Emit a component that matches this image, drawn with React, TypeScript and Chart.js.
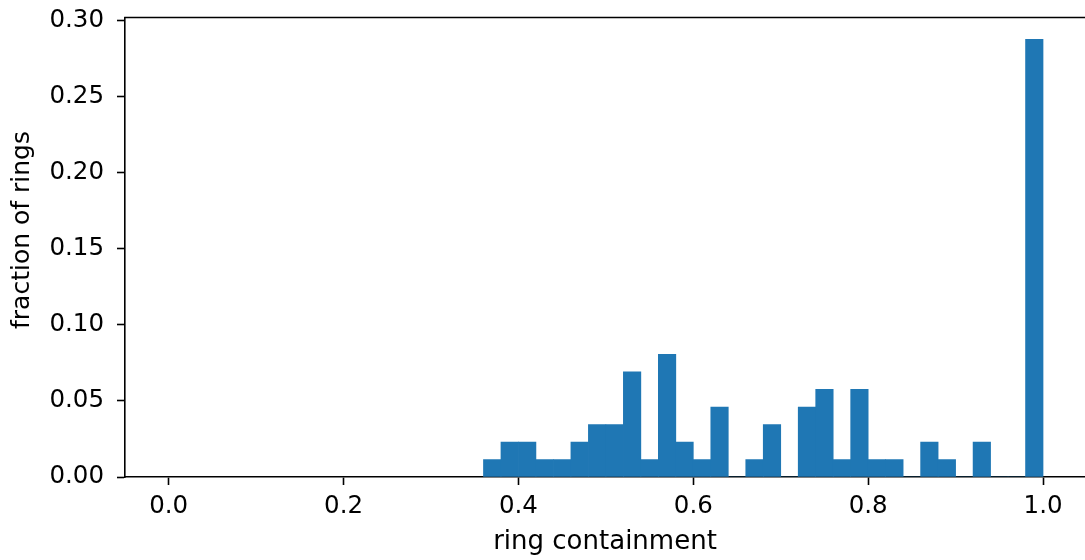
import React, { useEffect, useRef } from "react";
import { Chart, registerables } from "chart.js";

Chart.register(...registerables);

const binCenters = [
  0.37, 0.39, 0.41, 0.43, 0.45, 0.47, 0.49, 0.51, 0.53, 0.55, 0.57, 0.59, 0.61, 0.63, 0.65, 0.67,
  0.69, 0.71, 0.73, 0.75, 0.77, 0.79, 0.81, 0.83, 0.85, 0.87, 0.89, 0.91, 0.93, 0.95, 0.97, 0.99,
];
const fractions = [
  0.0115, 0.023, 0.023, 0.0115, 0.0115, 0.023, 0.0345, 0.0345, 0.069, 0.0115, 0.0805, 0.023, 0.0115, 0.046, 0, 0.0115,
  0.0345, 0, 0.046, 0.0575, 0.0115, 0.0575, 0.0115, 0.0115, 0, 0.023, 0.0115, 0, 0.023, 0, 0, 0.2874,
];
const xTicks = [0.0, 0.2, 0.4, 0.6, 0.8, 1.0];
const yTicks = [0.0, 0.05, 0.1, 0.15, 0.2, 0.25, 0.3];
const xLabel = "ring containment";
const yLabel = "fraction of rings";

const FONT = "'DejaVu Sans', sans-serif";

export default function App() {
  const ref = useRef<HTMLCanvasElement | null>(null);
  useEffect(() => {
    document.body.style.margin = "0";
    const canvas = ref.current;
    if (!canvas) return;
    const extras = {
      id: "extras",
      afterDraw(chart: any) {
        const { ctx, chartArea } = chart;
        ctx.save();
        ctx.strokeStyle = "#000";
        ctx.lineWidth = 1.6;
        ctx.beginPath();
        ctx.moveTo(chartArea.left - 0.8, chartArea.top);
        ctx.lineTo(chartArea.right, chartArea.top);
        ctx.stroke();
        ctx.translate(22.5, 230);
        ctx.rotate(-Math.PI / 2);
        ctx.fillStyle = "#000";
        ctx.font = `25px ${FONT}`;
        ctx.textAlign = "center";
        ctx.textBaseline = "middle";
        ctx.fillText(yLabel, 0, 0);
        ctx.restore();
      },
    };
    const chart = new Chart(canvas, {
      type: "bar",
      data: {
        datasets: [
          {
            data: binCenters.map((x, i) => ({ x, y: fractions[i] })),
            backgroundColor: "#1f77b4",
            borderWidth: 0,
            barPercentage: 1,
            categoryPercentage: 1,
          },
        ],
      },
      options: {
        animation: false,
        responsive: false,
        devicePixelRatio: 1,
        layout: { padding: { top: 17.5, right: 0, left: 0, bottom: 0 } },
        plugins: { legend: { display: false }, tooltip: { enabled: false } },
        scales: {
          x: {
            type: "linear",
            offset: false,
            min: -0.05,
            max: 1.048,
            bounds: "data",
            afterFit(scale: any) {
              scale.height = 83;
              scale.paddingLeft = 0;
              scale.paddingRight = 0;
            },
            afterBuildTicks(scale: any) {
              scale.ticks = xTicks.map((v) => ({ value: v }));
            },
            grid: {
              offset: false,
              drawOnChartArea: false,
              drawTicks: true,
              tickLength: 8,
              tickWidth: 1.6,
              color: "#000",
            },
            border: { display: true, color: "#000", width: 1.6 },
            ticks: {
              color: "#000",
              font: { family: FONT, size: 24.5 },
              padding: 7,
              maxRotation: 0,
              autoSkip: false,
              callback: (v: any) => Number(v).toFixed(1),
            },
            title: {
              display: true,
              text: xLabel,
              color: "#000",
              font: { family: FONT, size: 26 },
              padding: { top: 0, bottom: 2 },
            },
          },
          y: {
            type: "linear",
            min: 0,
            max: 0.3018,
            bounds: "data",
            afterFit(scale: any) {
              scale.width = 125;
              scale.paddingTop = 0;
              scale.paddingBottom = 0;
            },
            afterBuildTicks(scale: any) {
              scale.ticks = yTicks.map((v) => ({ value: v }));
            },
            grid: { drawOnChartArea: false, drawTicks: true, tickLength: 8, tickWidth: 1.6, color: "#000" },
            border: { display: true, color: "#000", width: 1.6 },
            ticks: {
              color: "#000",
              font: { family: FONT, size: 24.5 },
              padding: 13,
              autoSkip: false,
              callback: (v: any) => Number(v).toFixed(2),
            },
            title: { display: false },
          },
        },
      },
      plugins: [extras],
    });
    return () => chart.destroy();
  }, []);
  return (
    <div style={{ width: 1085, height: 560 }}>
      <canvas ref={ref} width={1085} height={560} style={{ display: "block" }} />
    </div>
  );
}
